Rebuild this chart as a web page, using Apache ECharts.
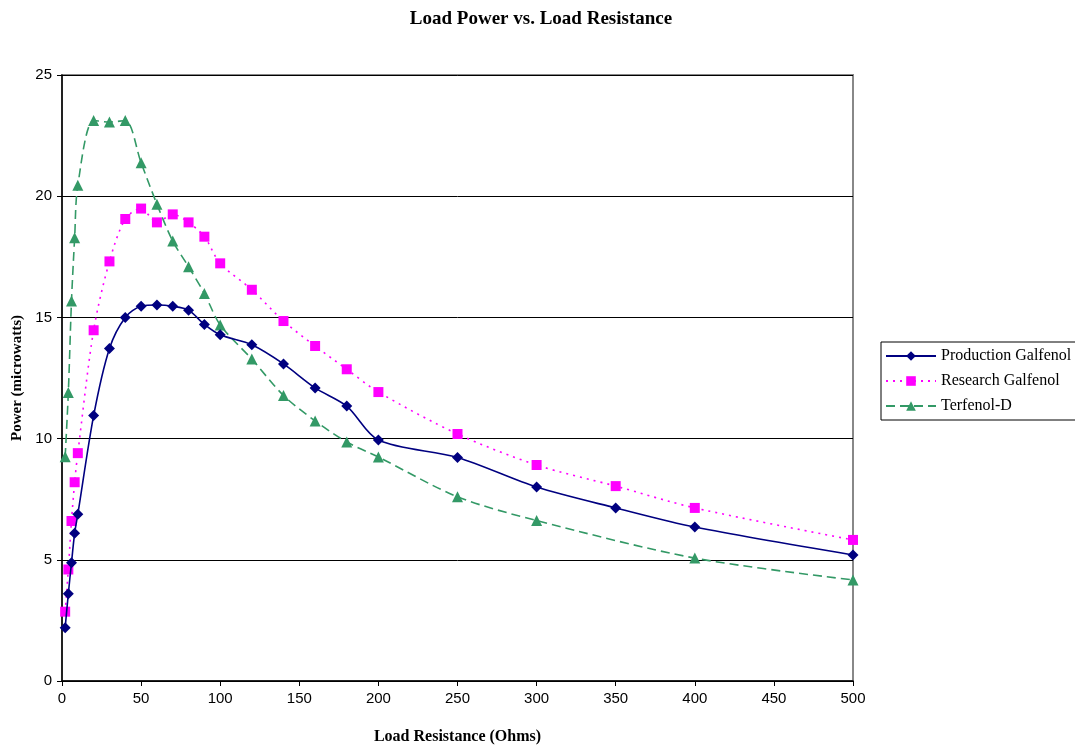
<!DOCTYPE html>
<html>
<head>
<meta charset="utf-8">
<script src="https://cdn.jsdelivr.net/npm/echarts@6/dist/echarts.min.js"></script>
<style>html,body{margin:0;padding:0;background:#fff}#c{width:1075px;height:746px}</style>
</head>
<body>
<div id="c"></div>
<script>
const resistance = [2, 4, 6, 8, 10, 20, 30, 40, 50, 60, 70, 80, 90, 100, 120, 140, 160, 180, 200, 250, 300, 350, 400, 500];
const productionGalfenol = [2.2, 3.6, 4.88, 6.1, 6.88, 10.95, 13.72, 15.0, 15.46, 15.51, 15.46, 15.3, 14.71, 14.28, 13.87, 13.08, 12.09, 11.34, 9.94, 9.22, 8.0, 7.14, 6.35, 5.2];
const researchGalfenol = [2.86, 4.6, 6.6, 8.2, 9.4, 14.47, 17.31, 19.06, 19.49, 18.92, 19.25, 18.92, 18.33, 17.23, 16.14, 14.85, 13.82, 12.86, 11.92, 10.19, 8.91, 8.04, 7.14, 5.82];
const terfenolD = [9.25, 11.9, 15.68, 18.29, 20.45, 23.12, 23.06, 23.12, 21.38, 19.67, 18.15, 17.09, 15.99, 14.69, 13.28, 11.78, 10.73, 9.86, 9.24, 7.6, 6.62, null, 5.07, 4.17];
const yTicks = [0, 5, 10, 15, 20, 25];
const xTicks = [0, 50, 100, 150, 200, 250, 300, 350, 400, 450, 500];

const pairs = ys => resistance.map((x, i) => [x, ys[i]]).filter(p => p[1] !== null);

const chart = echarts.init(document.getElementById('c'));
chart.setOption({
  backgroundColor: '#fff',
  animation: false,
  title: {
    text: 'Load Power vs. Load Resistance',
    left: 536, top: 5, textAlign: 'center',
    textStyle: {fontFamily: 'Liberation Serif', fontWeight: 'bold', fontSize: 19, color: '#000'}
  },
  grid: {left: 62, right: 222, top: 75, bottom: 65, show: true, borderColor: '#888', borderWidth: 2,
    backgroundColor: 'transparent', containLabel: false, outerBoundsMode: 'none'},
  legend: {
    orient: 'vertical', left: 881, top: 342,
    backgroundColor: '#fff', borderColor: '#000', borderWidth: 1,
    padding: [6, 20, 6, 4], itemGap: 9, itemWidth: 50, itemHeight: 12,
    textStyle: {fontFamily: 'Liberation Serif', fontSize: 16, color: '#000'},
    data: ['Production Galfenol', 'Research Galfenol', 'Terfenol-D']
  },
  xAxis: {
    type: 'value', min: 0, max: 500, interval: 50,
    name: 'Load Resistance (Ohms)', nameLocation: 'middle', nameGap: 48,
    nameTextStyle: {fontFamily: 'Liberation Serif', fontWeight: 'bold', fontSize: 16, color: '#000'},
    axisLine: {onZero: false, lineStyle: {color: '#000', width: 1.5}},
    axisTick: {show: true, length: 5, lineStyle: {color: '#000'}},
    axisLabel: {fontFamily: 'Liberation Sans', fontSize: 15, color: '#000', margin: 10,
      formatter: v => xTicks.includes(v) ? String(v) : ''},
    splitLine: {show: false}
  },
  yAxis: {
    type: 'value', min: 0, max: 25, interval: 5,
    name: 'Power (microwatts)', nameLocation: 'middle', nameGap: 36,
    nameTextStyle: {fontFamily: 'Liberation Serif', fontWeight: 'bold', fontSize: 15, color: '#000'},
    axisLine: {show: true, lineStyle: {color: '#000', width: 1.5}},
    axisTick: {show: true, length: 5, lineStyle: {color: '#000'}},
    axisLabel: {fontFamily: 'Liberation Sans', fontSize: 15, color: '#000', margin: 10,
      formatter: v => yTicks.includes(v) ? String(v) : ''},
    splitLine: {show: true, lineStyle: {color: '#000', width: 1}}
  },
  series: [
    {
      name: 'Production Galfenol', type: 'line', data: pairs(productionGalfenol),
      smooth: 0.3, symbol: 'diamond', symbolSize: 11,
      itemStyle: {color: '#000080'}, lineStyle: {color: '#000080', width: 1.6, type: 'solid'}, z: 4
    },
    {
      name: 'Research Galfenol', type: 'line', data: pairs(researchGalfenol),
      smooth: 0.3, symbol: 'rect', symbolSize: 10,
      itemStyle: {color: '#ff00ff'}, lineStyle: {color: '#ff00ff', width: 1.6, type: [2, 5]}, z: 3
    },
    {
      name: 'Terfenol-D', type: 'line', data: pairs(terfenolD),
      smooth: 0.3, symbol: 'triangle', symbolSize: 11,
      itemStyle: {color: '#339966'}, lineStyle: {color: '#339966', width: 1.6, type: [9, 5]}, z: 2
    }
  ]
});
</script>
</body>
</html>
